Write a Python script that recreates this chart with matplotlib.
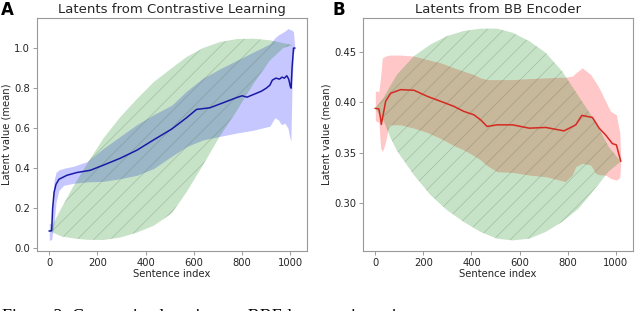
import numpy as np
import matplotlib.pyplot as plt

plt.rcParams['hatch.linewidth'] = 0.5

# ---- panel A: contrastive learning ----
cl_line_x = [0, 5, 10, 14, 20, 28, 40, 73, 115, 170, 225, 294, 363, 433, 508, 569,
             611, 666, 721, 777, 800, 820, 840, 860, 880, 900, 915, 925, 940, 955,
             965, 975, 985, 993, 1000, 1003, 1007, 1013, 1018]
cl_line_y = [0.087, 0.087, 0.09, 0.2, 0.28, 0.32, 0.345, 0.365, 0.379, 0.39, 0.416,
             0.45, 0.49, 0.542, 0.596, 0.652, 0.694, 0.702, 0.727, 0.753, 0.762,
             0.755, 0.765, 0.775, 0.785, 0.8, 0.815, 0.84, 0.85, 0.845, 0.855, 0.85,
             0.862, 0.845, 0.807, 0.8, 0.904, 1.0, 1.0]

cl_band_x = [0, 10, 14, 20, 28, 40, 60, 100, 156, 225, 294, 363, 433, 508, 569, 638,
             707, 777, 846, 880, 915, 935, 949, 963, 977, 990, 995, 1002, 1007, 1013, 1018]
cl_band_hi = [0.125, 0.125, 0.25, 0.34, 0.38, 0.392, 0.40, 0.41, 0.433, 0.5, 0.559,
              0.618, 0.668, 0.715, 0.785, 0.85, 0.896, 0.938, 0.98, 1.0, 1.022, 1.05,
              1.065, 1.075, 1.085, 1.097, 1.095, 1.09, 1.09, 1.08, 1.0]
cl_band_lo = [0.04, 0.045, 0.08, 0.13, 0.23, 0.29, 0.315, 0.325, 0.332, 0.335, 0.348,
              0.365, 0.399, 0.46, 0.508, 0.542, 0.559, 0.576, 0.59, 0.6, 0.61, 0.652,
              0.643, 0.618, 0.625, 0.60, 0.567, 0.534, 0.82, 0.97, 1.0]

cl_bridge_x = [0, 50, 100, 156, 225, 294, 363, 433, 508, 569, 638, 707, 777, 846, 915,
               970, 1010]
cl_bridge_hi = [0.087, 0.2, 0.31, 0.42, 0.55, 0.655, 0.745, 0.83, 0.9, 0.955, 1.0,
                1.03, 1.045, 1.047, 1.039, 1.025, 1.015]
cl_bridge_lo = [0.087, 0.06, 0.05, 0.043, 0.042, 0.054, 0.079, 0.113, 0.175, 0.28,
                0.416, 0.559, 0.685, 0.82, 0.938, 1.0, 1.015]

# ---- panel B: BB encoder ----
bb_line_x = [0, 15, 22, 25, 33, 43, 64, 105, 161, 216, 272, 327, 368, 410, 438, 465,
             507, 571, 640, 709, 785, 834, 859, 880, 903, 931, 958, 986, 1003, 1014, 1021]
bb_line_y = [0.394, 0.3935, 0.384, 0.378, 0.388, 0.401, 0.409, 0.4126, 0.412, 0.406,
             0.401, 0.396, 0.391, 0.3876, 0.3826, 0.376, 0.3776, 0.3776, 0.3743, 0.375,
             0.3716, 0.3776, 0.387, 0.386, 0.385, 0.3743, 0.3676, 0.359, 0.3576,
             0.3476, 0.3416]

bb_band_x = [0, 15, 22, 29, 36, 43, 57, 105, 161, 216, 272, 327, 368, 410, 438, 465,
             507, 571, 640, 709, 777, 790, 819, 834, 861, 896, 917, 931, 958, 979, 1003,
             1017, 1021]
bb_band_hi = [0.411, 0.411, 0.425, 0.444, 0.445, 0.446, 0.447, 0.447, 0.446, 0.4426,
              0.4393, 0.4343, 0.431, 0.4276, 0.4243, 0.4226, 0.4226, 0.4226, 0.4236,
              0.4243, 0.425, 0.425, 0.426, 0.4293, 0.4343, 0.4276, 0.42, 0.4143, 0.401,
              0.391, 0.3876, 0.3693, 0.344]
bb_band_lo = [0.382, 0.38, 0.355, 0.351, 0.355, 0.361, 0.3776, 0.3776, 0.3743, 0.370,
              0.364, 0.357, 0.3526, 0.347, 0.3426, 0.337, 0.331, 0.3303, 0.3276, 0.326,
              0.322, 0.321, 0.3276, 0.336, 0.3393, 0.3376, 0.3293, 0.328, 0.3276,
              0.3243, 0.3226, 0.325, 0.34]

bb_bridge_x = [0, 36, 64, 92, 161, 230, 299, 368, 438, 507, 571, 640, 709, 777, 846,
               915, 970, 1021]
bb_bridge_hi = [0.394, 0.405, 0.417, 0.428, 0.446, 0.4576, 0.466, 0.471, 0.4733,
                0.4733, 0.4693, 0.461, 0.4493, 0.431, 0.406, 0.381, 0.356, 0.341]
bb_bridge_lo = [0.394, 0.381, 0.3643, 0.351, 0.3276, 0.3076, 0.2926, 0.281, 0.271,
                0.2643, 0.2626, 0.2643, 0.271, 0.281, 0.2943, 0.3143, 0.331, 0.341]


def draw_panel(ax, bx, blo, bhi, sx, slo, shi, lx, ly, color, line_color, title):
    ax.fill_between(sx, slo, shi, color=color, alpha=0.22, linewidth=0, zorder=1)
    # brownian bridge density, hatched, drawn over the model band
    ax.fill_between(bx, blo, bhi, facecolor=(0, 0.5, 0, 0.22),
                    edgecolor=(0.3, 0.4, 0.3, 0.3), hatch='//', linewidth=0, zorder=2)
    ax.plot(lx, ly, color=line_color, linewidth=1.1, zorder=3)
    ax.set_title(title, fontsize=9.5, pad=4, color='0.15')
    ax.set_xlabel('Sentence index', fontsize=7.2, labelpad=1, color='0.15')
    ax.set_ylabel('Latent value (mean)', fontsize=7.2, labelpad=2, color='0.15')
    ax.tick_params(labelsize=7.2, colors='0.15', length=3, width=0.6, pad=2)
    ax.tick_params(color='0.55')
    for s in ax.spines.values():
        s.set_color('0.6')
        s.set_linewidth(0.8)
    ax.set_xticks([0, 200, 400, 600, 800, 1000])


fig = plt.figure(figsize=(6.4, 3.11), dpi=100)
ax1 = fig.add_axes([0.0578, 0.1929, 0.4219, 0.749])
ax2 = fig.add_axes([0.5672, 0.1929, 0.4219, 0.749])

draw_panel(ax1, cl_bridge_x, cl_bridge_lo, cl_bridge_hi, cl_band_x, cl_band_lo,
           cl_band_hi, cl_line_x, cl_line_y, 'b', '#1a1aa8',
           'Latents from Contrastive Learning')
ax1.set_yticks([0.0, 0.2, 0.4, 0.6, 0.8, 1.0])

draw_panel(ax2, bb_bridge_x, bb_bridge_lo, bb_bridge_hi, bb_band_x, bb_band_lo,
           bb_band_hi, bb_line_x, bb_line_y, 'r', '#d42a20',
           'Latents from BB Encoder')
ax2.set_yticks([0.30, 0.35, 0.40, 0.45])

fig.text(0.001, 0.997, 'A', fontsize=12, fontweight='bold', ha='left', va='top')
fig.text(0.52, 0.997, 'B', fontsize=12, fontweight='bold', ha='left', va='top')

fig.text(0.003, 0.007, 'Figure 3: Contrastive learning vs. BBE latent trajectories',
         family='Liberation Serif', fontsize=13, ha='left', va='top')

fig.savefig('out.png', dpi=100)
